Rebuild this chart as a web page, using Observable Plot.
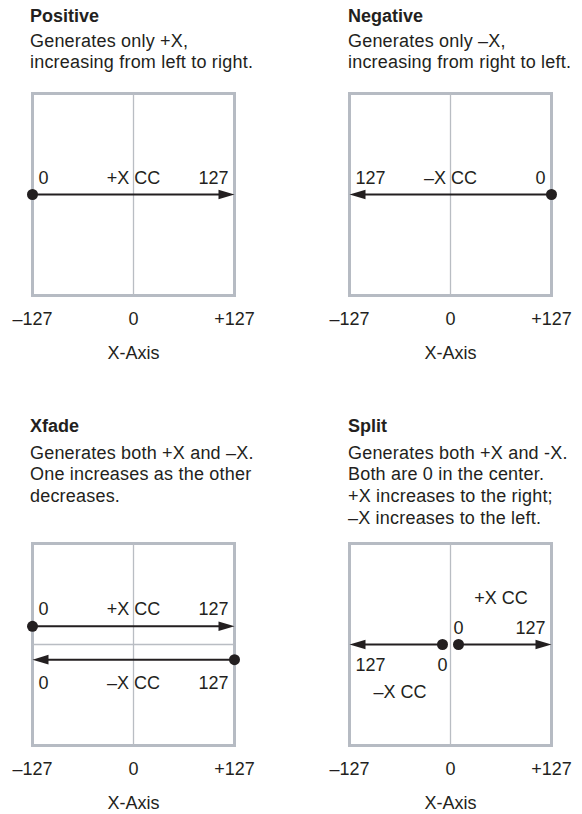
<!DOCTYPE html>
<html>
<head>
<meta charset="utf-8">
<script src="https://cdn.jsdelivr.net/npm/d3@7"></script>
<script src="https://cdn.jsdelivr.net/npm/@observablehq/plot@0.6"></script>
<style>
  body { margin: 0; background: #ffffff; }
  #chart { position: relative; width: 582px; height: 814px; font-family: "Liberation Sans", Arial, sans-serif; color: #231f20; }
  .title { position: absolute; font-weight: bold; font-size: 18px; line-height: 21.8px; white-space: nowrap; }
  .sub { position: absolute; font-size: 18px; line-height: 21.8px; letter-spacing: 0.2px; white-space: nowrap; }
  .plot { position: absolute; }
</style>
</head>
<body>
<div id="chart"></div>
<script>
// ---------- data ----------
const ccMin = -127, ccMax = 127;
const ccTicks = [-127, 0, 127];
const ccTickLabels = ["–127", "0", "+127"];
const axisTitle = "X-Axis";

const titles = ["Positive", "Negative", "Xfade", "Split"];
const subtitles = [
  ["Generates only +X,", "increasing from left to right."],
  ["Generates only –X,", "increasing from right to left."],
  ["Generates both +X and –X.", "One increases as the other", "decreases."],
  ["Generates both +X and -X.", "Both are 0 in the center.", "+X increases to the right;", "–X increases to the left."]
];

// arrows: x0 = value-0 end (dot), x1 = value-127 end (arrowhead); lane = row on the y axis
const positiveArrows = [{x0: -127, x1: 127, lane: 0}];
const negativeArrows = [{x0: 127, x1: -127, lane: 0}];
const xfadeArrows = [{x0: -127, x1: 127, lane: 0.18}, {x0: 127, x1: -127, lane: -0.15}];
const splitArrows = [{x0: 0, x1: 127, lane: 0}, {x0: 0, x1: -127, lane: 0}];

// labels: which arrow, where along it, and on which side
const positiveLabels = [
  {text: "0", arrow: 0, at: "start", side: "above", line: 1},
  {text: "+X CC", arrow: 0, at: "mid", side: "above", line: 1},
  {text: "127", arrow: 0, at: "end", side: "above", line: 1}
];
const negativeLabels = [
  {text: "0", arrow: 0, at: "start", side: "above", line: 1},
  {text: "–X CC", arrow: 0, at: "mid", side: "above", line: 1},
  {text: "127", arrow: 0, at: "end", side: "above", line: 1}
];
const xfadeLabels = [
  {text: "0", arrow: 0, at: "start", side: "above", line: 1},
  {text: "+X CC", arrow: 0, at: "mid", side: "above", line: 1},
  {text: "127", arrow: 0, at: "end", side: "above", line: 1},
  {text: "0", arrow: 1, at: "end", side: "below", line: 1},
  {text: "–X CC", arrow: 1, at: "mid", side: "below", line: 1},
  {text: "127", arrow: 1, at: "start", side: "below", line: 1}
];
const splitLabels = [
  {text: "+X CC", arrow: 0, at: "mid", side: "above", line: 2},
  {text: "0", arrow: 0, at: "start", side: "above", line: 1},
  {text: "127", arrow: 0, at: "end", side: "above", line: 1},
  {text: "127", arrow: 1, at: "end", side: "below", line: 1},
  {text: "0", arrow: 1, at: "start", side: "below", line: 1},
  {text: "–X CC", arrow: 1, at: "mid", side: "below", line: 2}
];

// ---------- drawing ----------
const ink = "#231f20";
const boxColor = "#b6bbc3";
const gridColor = "#b9bdc3";
const font = "'Liberation Sans', Arial, sans-serif";

const headSymbol = {
  draw(ctx) {
    ctx.moveTo(0, 0);
    ctx.lineTo(-16, -4.8);
    ctx.lineTo(-16, 4.8);
    ctx.closePath();
  }
};

const panels = [
  {arrows: positiveArrows, labels: positiveLabels, sep: false, below: 29},
  {arrows: negativeArrows, labels: negativeLabels, sep: false, below: 29},
  {arrows: xfadeArrows, labels: xfadeLabels, sep: true, below: 29},
  {arrows: splitArrows, labels: splitLabels, sep: false, below: 26}
];

const boxLefts = [32, 349];
const textLefts = [30, 348];
const boxTops = [93, 543];
const titleTops = [5.6, 415.6];
const subTops = [30.6, 442.5];
const boxW = 202, boxH = 202;
const mL = 30, mR = 30, mT = 10, mB = 70;

const chart = document.getElementById("chart");

panels.forEach((p, i) => {
  const col = i % 2, row = Math.floor(i / 2);

  const t = document.createElement("div");
  t.className = "title";
  t.style.left = textLefts[col] + "px";
  t.style.top = titleTops[row] + "px";
  t.textContent = titles[i];
  chart.appendChild(t);

  const s = document.createElement("div");
  s.className = "sub";
  s.style.left = textLefts[col] + "px";
  s.style.top = subTops[row] + "px";
  s.innerHTML = subtitles[i].map(l => l.replace(/&/g, "&amp;").replace(/</g, "&lt;")).join("<br>");
  chart.appendChild(s);

  const marks = [];
  marks.push(Plot.frame({stroke: boxColor, strokeWidth: 3}));
  marks.push(Plot.ruleX([0], {stroke: gridColor, strokeWidth: 1.3}));
  if (p.sep) marks.push(Plot.ruleY([0], {stroke: gridColor, strokeWidth: 1.3}));

  p.arrows.forEach(a => {
    const fromCenter = a.x0 !== ccMin && a.x0 !== ccMax;
    const dir = Math.sign(a.x1 - a.x0);
    marks.push(Plot.arrow([a], {
      x1: "x0", x2: "x1", y1: "lane", y2: "lane",
      stroke: ink, strokeWidth: 2, headLength: 0,
      insetStart: fromCenter ? 8 : 0, insetEnd: 8
    }));
    marks.push(Plot.dot([a], {
      x: "x1", y: "lane", symbol: headSymbol, rotate: dir > 0 ? 0 : 180,
      fill: ink, stroke: "none", r: 5
    }));
    marks.push(Plot.dot([a], {
      x: "x0", y: "lane", r: 5.5, fill: ink, stroke: "none",
      dx: fromCenter ? dir * 8 : 0
    }));
  });

  p.labels.forEach(l => {
    const a = p.arrows[l.arrow];
    const x = l.at === "start" ? a.x0 : l.at === "end" ? a.x1 : (a.x0 + a.x1) / 2;
    let anchor = "middle", dx = 0;
    if (l.at !== "mid") {
      if (x === ccMin) { anchor = "start"; dx = 6; }
      else if (x === ccMax) { anchor = "end"; dx = -6; }
      else if (a.x1 > a.x0) { anchor = "start"; dx = 3; }
      else { anchor = "end"; dx = -3; }
    }
    let dy;
    if (l.side === "above") dy = l.line === 1 ? -11 : -41;
    else dy = l.line === 1 ? p.below : 53;
    marks.push(Plot.text([{x, lane: a.lane, text: l.text}], {
      x: "x", y: "lane", text: "text", textAnchor: anchor, lineAnchor: "bottom",
      dx, dy, fontSize: 18, fill: ink, fontFamily: font
    }));
  });

  marks.push(Plot.axisX(ccTicks, {
    tickFormat: d => ccTickLabels[ccTicks.indexOf(d)],
    tickSize: 0, tickPadding: 17, fontSize: 18, label: null, color: ink
  }));
  marks.push(Plot.text([axisTitle], {
    text: d => d, frameAnchor: "bottom", dy: 63, lineAnchor: "bottom",
    fontSize: 18, fill: ink, fontFamily: font
  }));

  const svg = Plot.plot({
    width: mL + boxW + mR,
    height: mT + boxH + mB,
    marginLeft: mL, marginRight: mR, marginTop: mT, marginBottom: mB,
    x: {domain: [ccMin, ccMax], axis: null},
    y: {domain: [-1, 1], axis: null},
    style: {fontFamily: font, fontSize: "18px", color: ink, background: "transparent", overflow: "visible"},
    marks
  });
  svg.classList.add("plot");
  svg.style.position = "absolute";
  svg.style.left = (boxLefts[col] - mL) + "px";
  svg.style.top = (boxTops[row] - mT) + "px";
  chart.appendChild(svg);
});
</script>
</body>
</html>
